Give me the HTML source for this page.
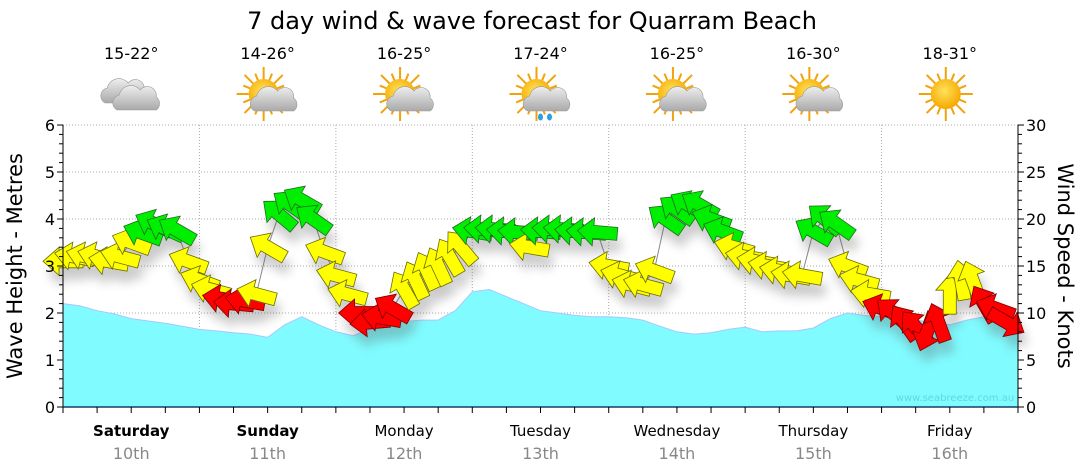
<!DOCTYPE html>
<html><head><meta charset="utf-8"><style>
html,body{margin:0;padding:0;background:#fff;width:1080px;height:475px;overflow:hidden}
svg{display:block}
text{font-family:"DejaVu Sans","Liberation Sans",sans-serif}
</style></head><body>
<svg id="chart" width="1080" height="475" viewBox="0 0 1080 475">
<defs>
<filter id="sh" x="-50%" y="-50%" width="200%" height="200%"><feGaussianBlur stdDeviation="5"/></filter>
<radialGradient id="sunG" cx="0.45" cy="0.4" r="0.6"><stop offset="0" stop-color="#ffe25a"/><stop offset="1" stop-color="#f5a800"/></radialGradient>
<linearGradient id="cloudG" x1="0" y1="0" x2="0" y2="1"><stop offset="0" stop-color="#eeeeee"/><stop offset="1" stop-color="#a9a9a9"/></linearGradient>
</defs>
<text x="532" y="29" text-anchor="middle" font-size="24" fill="#000">7 day wind &amp; wave forecast for Quarram Beach</text>
<g id="grid"></g>
<g id="wave"></g>
<g id="wind"></g>
<g id="axes"></g>
<g id="days"></g>
<text x="955" y="401" text-anchor="middle" font-size="10" fill="#5fd9e0">www.seabreeze.com.au</text>
<text transform="translate(22,266) rotate(-90)" text-anchor="middle" font-size="21" fill="#000" font-family="Liberation Sans">Wave Height - Metres</text>
<text transform="translate(1058,266) rotate(90)" text-anchor="middle" font-size="21" fill="#000">Wind Speed - Knots</text>
</svg>
<script>
const dayNames=["Saturday","Sunday","Monday","Tuesday","Wednesday","Thursday","Friday"];
const dayDates=["10th","11th","12th","13th","14th","15th","16th"];
const temps=["15-22°","14-26°","16-25°","17-24°","16-25°","16-30°","18-31°"];
const icons=["cloud","suncloud","suncloud","rain","suncloud","suncloud","sun"];
const waveTicks=[0,1,2,3,4,5,6];
const windTicks=[0,5,10,15,20,25,30];
// wave height (m), 3-hourly
const waveHeights=[2.2,2.15,2.05,1.98,1.88,1.83,1.78,1.72,1.65,1.62,1.58,1.55,1.48,1.75,1.92,1.75,1.6,1.52,1.65,1.75,1.82,1.85,1.85,2.05,2.45,2.5,2.35,2.2,2.05,2.0,1.95,1.92,1.92,1.9,1.85,1.72,1.6,1.55,1.58,1.65,1.7,1.6,1.62,1.62,1.68,1.88,2.0,1.95,1.92,1.9,1.85,1.8,1.75,1.85,1.92,1.9,1.8];
// wind speed (knots), 2-hourly
const windSpeeds=[15.5,16,16,16,15.5,16,17.5,18.5,19.5,19,18.8,15.5,
13.5,12.5,11.5,11,11.3,12,17,20.5,21.5,22,20,16.5,
14,12,10,9,9.5,10.5,12.5,13.5,14.5,15,16,17,
18.7,18.9,18.9,18.7,18.6,17,18.7,18.9,18.9,18.7,18.6,18.6,
15,14,13,13,14.5,20,21,21.5,21.5,20,18.7,17,
16,15.5,15,14.5,14,14,18.7,20,19.5,15,13.5,12,
10.5,10,9,8.5,8,9,12,13.5,13.5,11,10.5,9];
// arrow heading (degrees, screen, 0=right, clockwise)
const windDirs=[180,190,195,195,190,195,200,200,205,205,210,200,
200,195,190,185,190,195,210,220,215,210,215,200,
195,195,180,175,190,210,240,245,245,245,240,230,
190,185,185,185,185,190,185,185,185,185,185,185,
190,195,195,195,200,215,215,210,210,200,200,195,
190,190,190,190,190,190,210,220,215,200,195,190,
200,220,235,230,110,250,270,260,250,240,200,30];

const NS="http://www.w3.org/2000/svg";
const X0=63,X1=1018,Y0=407,Y1=125,DAYW=(X1-X0)/7;
const xT=h=>X0+h/168*(X1-X0);
const yW=m=>Y0-m/6*(Y0-Y1);
const yK=k=>Y0-k/30*(Y0-Y1);
function mk(tag,attrs,parent){const e=document.createElementNS(NS,tag);for(const k in attrs)e.setAttribute(k,attrs[k]);parent.appendChild(e);return e;}
const grid=document.getElementById('grid'),axes=document.getElementById('axes'),wave=document.getElementById('wave'),wind=document.getElementById('wind'),days=document.getElementById('days');

// grid
waveTicks.forEach(t=>{if(t>0){const l=mk('line',{x1:X0,x2:X1,y1:yW(t),y2:yW(t),stroke:'#aaa','stroke-dasharray':'1,2'},grid);

}});
for(let d=1;d<7;d++){const l=mk('line',{x1:X0+d*DAYW,x2:X0+d*DAYW,y1:Y1,y2:Y0,stroke:'#aaa','stroke-dasharray':'1,2'},grid);

}

// wave area
let pts=waveHeights.map((v,i)=>xT(i*3).toFixed(1)+','+yW(v).toFixed(1));
const area=mk('polygon',{points:X0+','+Y0+' '+pts.join(' ')+' '+xT((waveHeights.length-1)*3)+','+Y0,fill:'#80fbff',stroke:'#a6c8ff','stroke-width':1},wave);



// wind
const wx=i=>xT(i*2), wy=i=>yK(windSpeeds[i]);
const conn=mk('polyline',{points:windSpeeds.map((v,i)=>wx(i)+','+wy(i)).join(' '),fill:'none',stroke:'#888','stroke-width':1},wind);


const arrowPath="M20,0 L4,-14 L4,-6.5 L-20,-6.5 L-20,6.5 L4,6.5 L4,14 Z";
const shG=mk('g',{filter:'url(#sh)',opacity:0.3},wind);
windSpeeds.forEach((v,i)=>{mk('path',{d:arrowPath,fill:'#555',transform:`translate(${wx(i)+4},${wy(i)+12}) rotate(${windDirs[i]})`},shG);});
windSpeeds.forEach((v,i)=>{
 const col=v<11.6?'#ff0000':(v<18.5?'#ffff00':'#00ee00');
 const sc=v<11.6?'#7a0000':(v<18.5?'#6b6b00':'#1e6b1e');
 const a=mk('path',{d:arrowPath,fill:col,stroke:sc,'stroke-width':0.8,transform:`translate(${wx(i)},${wy(i)}) rotate(${windDirs[i]})`},wind);
 
 
});

// axes
mk('line',{x1:X0,x2:X0,y1:Y1,y2:Y0,stroke:'#000'},axes);
mk('line',{x1:X1,x2:X1,y1:Y1,y2:Y0,stroke:'#000'},axes);
mk('line',{x1:X0,x2:X1,y1:Y0,y2:Y0,stroke:'#1a3a6a','stroke-width':1.5},axes);
for(let m=0;m<=30;m++){const y=yW(m/5);mk('line',{x1:X0-(m%5?4:6),x2:X0,y1:y,y2:y,stroke:'#000'},axes);}
waveTicks.forEach(t=>{const tx=mk('text',{x:X0-8,y:yW(t)+6,'text-anchor':'end','font-size':16},axes);tx.textContent=t;

});
for(let k=0;k<=30;k++){const y=yK(k);mk('line',{x1:X1,x2:X1+(k%5?4:6),y1:y,y2:y,stroke:'#000'},axes);}
windTicks.forEach(t=>{const tx=mk('text',{x:X1+8,y:yK(t)+6,'font-size':16},axes);tx.textContent=t;

});
for(let h=0;h<=168;h+=6){mk('line',{x1:xT(h),x2:xT(h),y1:Y0,y2:Y0+6,stroke:'#000'},axes);}

// days
function icon(kind,cx,cy,g){
 const sun=()=>{for(let r=0;r<16;r++){const a=r*Math.PI/8,L=r%2?22:27;mk('line',{x1:cx-4+Math.cos(a)*11,y1:cy-3+Math.sin(a)*11,x2:cx-4+Math.cos(a)*L,y2:cy-3+Math.sin(a)*L,stroke:'#f2a20a','stroke-width':2},g);}
  mk('circle',{cx:cx-4,cy:cy-3,r:15,fill:'url(#sunG)'},g);};
 const cloud=(x,y,s)=>{mk('path',{d:`M${x-20},${y+11} a8 8 0 0 1 2,-15 a12 12 0 0 1 21,-5 a9 9 0 0 1 16,7 a8 8 0 0 1 0,13 Z`,fill:'url(#cloudG)',stroke:'#999','stroke-width':0.6},g);};
 if(kind==='sun'){sun();return;}
 if(kind==='cloud'){cloud(cx-6,cy-5,1);cloud(cx+6,cy+2,1);return;}
 sun();cloud(cx+7,cy+3,1);
 if(kind==='rain'){mk('ellipse',{cx:cx,cy:cy+20,rx:2.5,ry:3.5,fill:'#2aa0e8'},g);mk('ellipse',{cx:cx+9,cy:cy+20,rx:2.5,ry:3.5,fill:'#2aa0e8'},g);}
}
dayNames.forEach((n,d)=>{
 const cx=X0+(d+0.5)*DAYW;
 const g=mk('g',{},days);
 
 
 const t=mk('text',{x:cx,y:59,'text-anchor':'middle','font-size':16},g);t.textContent=temps[d];
 
 
 const ig=mk('g',{},g);
 
 
 icon(icons[d],cx,97,ig);
 const dn=mk('text',{x:cx,y:436,'text-anchor':'middle','font-size':15,'font-weight':d<2?'bold':'normal'},g);dn.textContent=n;
 
 
 const dt=mk('text',{x:cx,y:459,'text-anchor':'middle','font-size':16,fill:'#888'},g);dt.textContent=dayDates[d];
 
 
});
</script>
</body></html>
